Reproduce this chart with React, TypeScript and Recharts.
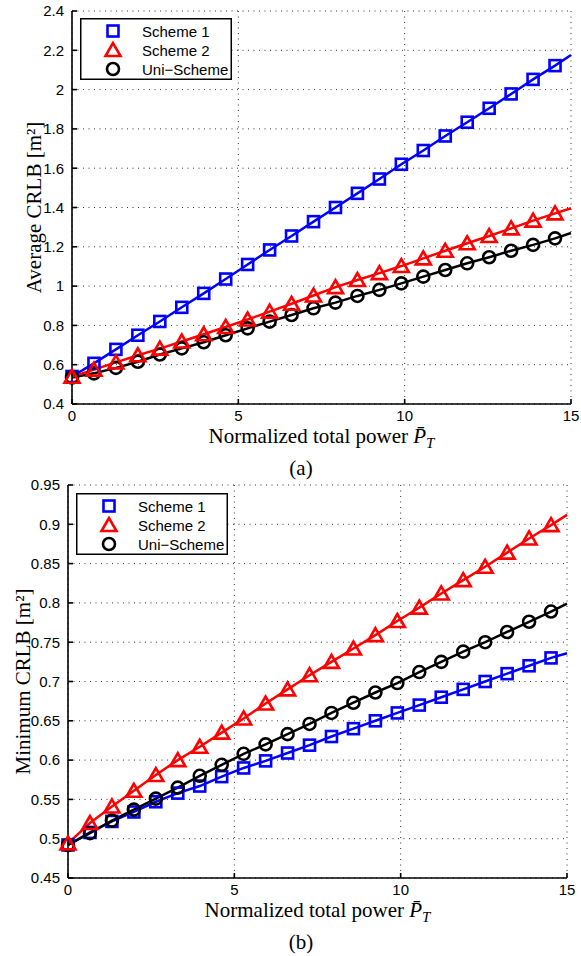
import React from "react";
import { ComposedChart, Line, XAxis, YAxis, CartesianGrid } from "recharts";

// sample points of the normalized total power (last one only carries the line to the edge)
const powerX = [0, 0.66, 1.32, 1.98, 2.64, 3.3, 3.96, 4.62, 5.28, 5.94, 6.6, 7.26, 7.92, 8.58, 9.24, 9.9, 10.56, 11.22, 11.88, 12.54, 13.2, 13.86, 14.52, 15];
const xTicks = [0, 5, 10, 15];

// (a) average CRLB
const avgScheme1 = [0.54, 0.607, 0.678, 0.75, 0.82, 0.892, 0.963, 1.036, 1.11, 1.184, 1.255, 1.328, 1.4, 1.472, 1.545, 1.62, 1.69, 1.764, 1.834, 1.905, 1.978, 2.052, 2.122, 2.176];
const avgScheme2 = [0.539, 0.575, 0.612, 0.648, 0.682, 0.718, 0.755, 0.792, 0.83, 0.87, 0.91, 0.952, 0.995, 1.031, 1.066, 1.102, 1.141, 1.18, 1.218, 1.255, 1.294, 1.333, 1.37, 1.396];
const avgUni = [0.535, 0.556, 0.584, 0.615, 0.652, 0.683, 0.714, 0.75, 0.785, 0.819, 0.853, 0.887, 0.916, 0.95, 0.981, 1.014, 1.048, 1.082, 1.116, 1.147, 1.18, 1.21, 1.243, 1.27];
const avgTicks = [0.4, 0.6, 0.8, 1, 1.2, 1.4, 1.6, 1.8, 2, 2.2, 2.4];

// (b) minimum CRLB
const minScheme1 = [0.492, 0.508, 0.522, 0.534, 0.547, 0.558, 0.567, 0.579, 0.59, 0.599, 0.609, 0.619, 0.63, 0.64, 0.65, 0.66, 0.67, 0.68, 0.69, 0.7, 0.71, 0.72, 0.73, 0.736];
const minScheme2 = [0.494, 0.52, 0.541, 0.561, 0.581, 0.6, 0.617, 0.635, 0.653, 0.672, 0.69, 0.708, 0.725, 0.742, 0.759, 0.777, 0.794, 0.812, 0.829, 0.846, 0.864, 0.882, 0.899, 0.912];
const minUni = [0.492, 0.507, 0.523, 0.537, 0.551, 0.565, 0.58, 0.594, 0.608, 0.62, 0.633, 0.646, 0.66, 0.673, 0.686, 0.698, 0.712, 0.725, 0.738, 0.75, 0.763, 0.776, 0.789, 0.799];
const minTicks = [0.45, 0.5, 0.55, 0.6, 0.65, 0.7, 0.75, 0.8, 0.85, 0.9, 0.95];

const seriesNames = ["Scheme 1", "Scheme 2", "Uni\u2212Scheme"];

const BLUE = "#0000ff";
const RED = "#ff0000";
const BLACK = "#000000";
const SANS = "Liberation Sans, Arial, sans-serif";
const SERIF = "Liberation Serif, Times New Roman, serif";

type Kind = "square" | "triangle" | "circle";

function MarkerShape({ kind, cx, cy }: { kind: Kind; cx: number; cy: number }) {
    if (kind === "square") {
        return <rect x={cx - 5.5} y={cy - 5.5} width={11} height={11} fill="none" stroke={BLUE} strokeWidth={2.6} />;
    }
    if (kind === "triangle") {
        return (
            <polygon
                points={`${cx},${cy - 7} ${cx - 7.5},${cy + 6} ${cx + 7.5},${cy + 6}`}
                fill="none"
                stroke={RED}
                strokeWidth={2.6}
            />
        );
    }
    return <circle cx={cx} cy={cy} r={6} fill="none" stroke={BLACK} strokeWidth={2.6} />;
}

const makeDot = (kind: Kind) => (props: any) => {
    const { cx, cy, index } = props;
    if (cx == null || cy == null || index === powerX.length - 1) return <g key={`${kind}-${index}`} />;
    return (
        <g key={`${kind}-${index}`}>
            <MarkerShape kind={kind} cx={cx} cy={cy} />
        </g>
    );
};

const XTitle = (props: any) => {
    const vb = props.viewBox || {};
    const cx = vb.x + vb.width / 2;
    return (
        <g>
            <text x={cx} y={vb.y + 39} textAnchor="middle" fontFamily={SERIF} fontSize={21} fill={BLACK}>
                Normalized total power{" "}
                <tspan fontStyle="italic">P&#x0304;</tspan>
                <tspan fontStyle="italic" fontSize={15} dy={5}>T</tspan>
            </text>
            <text x={props.captionX} y={vb.y + 71} textAnchor="middle" fontFamily={SERIF} fontSize={21} fill={BLACK}>
                {props.caption}
            </text>
        </g>
    );
};

const YTitle = (props: any) => {
    const vb = props.viewBox || {};
    const cy = vb.y + vb.height / 2;
    const bx = props.baseX;
    return (
        <text
            x={bx}
            y={cy}
            transform={`rotate(-90, ${bx}, ${cy})`}
            textAnchor="middle"
            fontFamily={SERIF}
            fontSize={21}
            fill={BLACK}
        >
            {props.title}
        </text>
    );
};

function LegendBox({ left, top }: { left: number; top: number }) {
    const kinds: Kind[] = ["square", "triangle", "circle"];
    return (
        <svg
            width={152}
            height={62}
            style={{ position: "absolute", left, top, overflow: "visible" }}
        >
            <rect x={0.75} y={0.75} width={150.5} height={60.5} fill="#ffffff" stroke={BLACK} strokeWidth={1.5} />
            {kinds.map((k, i) => (
                <g key={k}>
                    <MarkerShape kind={k} cx={33} cy={13 + i * 19} />
                    <text x={62} y={13 + i * 19 + 5.5} fontFamily={SANS} fontSize={15} fill={BLACK}>
                        {seriesNames[i]}
                    </text>
                </g>
            ))}
        </svg>
    );
}

interface PanelProps {
    s1: number[];
    s2: number[];
    uni: number[];
    yTicks: number[];
    yTitle: string;
    caption: string;
    top: number;
    height: number;
    axisWidth: number;
    rightGap: number;
    bottomBand: number;
    titleBaseX: number;
    legendLeft: number;
    legendTop: number;
}

function CrlbPanel(p: PanelProps) {
    const rows = powerX.map((x, i) => ({ x, s1: p.s1[i], s2: p.s2[i], uni: p.uni[i] }));
    const yDomain = [p.yTicks[0], p.yTicks[p.yTicks.length - 1]];
    const tickStyle = { fontFamily: SANS, fontSize: 15, fill: BLACK };
    return (
        <div style={{ position: "absolute", left: 0, top: p.top, width: 581, height: p.height }}>
            <ComposedChart
                width={581}
                height={p.height}
                data={rows}
                margin={{ top: 11, right: p.rightGap, bottom: 0, left: 0 }}
            >
                <CartesianGrid stroke="#333333" strokeWidth={1} strokeDasharray="1 4.5" />
                <XAxis
                    dataKey="x"
                    type="number"
                    domain={[0, 15]}
                    ticks={xTicks}
                    height={p.bottomBand}
                    stroke={BLACK}
                    strokeWidth={1.6}
                    tickSize={-5}
                    tickMargin={11}
                    tick={tickStyle}
                    interval={0}
                    label={<XTitle caption={p.caption} captionX={301} />}
                />
                <XAxis
                    xAxisId="top"
                    orientation="top"
                    dataKey="x"
                    type="number"
                    domain={[0, 15]}
                    ticks={xTicks}
                    height={0}
                    stroke={BLACK}
                    strokeWidth={1.6}
                    tickSize={-5}
                    tick={false}
                />
                <YAxis
                    type="number"
                    domain={yDomain}
                    ticks={p.yTicks}
                    width={p.axisWidth}
                    stroke={BLACK}
                    strokeWidth={1.6}
                    tickSize={-5}
                    tickMargin={13}
                    tick={tickStyle}
                    interval={0}
                    label={<YTitle title={p.yTitle} baseX={p.titleBaseX} />}
                />
                <YAxis
                    yAxisId="right"
                    orientation="right"
                    type="number"
                    domain={yDomain}
                    ticks={p.yTicks}
                    width={0}
                    stroke={BLACK}
                    strokeWidth={1.6}
                    tickSize={-5}
                    tick={false}
                />
                <Line
                    dataKey="s1"
                    stroke={BLUE}
                    strokeWidth={2.5}
                    dot={makeDot("square")}
                    activeDot={false}
                    isAnimationActive={false}
                />
                <Line
                    dataKey="uni"
                    stroke={BLACK}
                    strokeWidth={2.5}
                    dot={makeDot("circle")}
                    activeDot={false}
                    isAnimationActive={false}
                />
                <Line
                    dataKey="s2"
                    stroke={RED}
                    strokeWidth={2.5}
                    dot={makeDot("triangle")}
                    activeDot={false}
                    isAnimationActive={false}
                />
            </ComposedChart>
            <LegendBox left={p.legendLeft} top={p.legendTop} />
        </div>
    );
}

export default function App() {
    return (
        <div style={{ position: "absolute", left: 0, top: 0, width: 581, height: 956, background: "#ffffff" }}>
            <CrlbPanel
                s1={avgScheme1}
                s2={avgScheme2}
                uni={avgUni}
                yTicks={avgTicks}
                yTitle="Average CRLB [m²]"
                caption="(a)"
                top={0}
                height={484}
                axisWidth={72}
                rightGap={10}
                bottomBand={80}
                titleBaseX={41}
                legendLeft={80}
                legendTop={18}
            />
            <CrlbPanel
                s1={minScheme1}
                s2={minScheme2}
                uni={minUni}
                yTicks={minTicks}
                yTitle="Minimum CRLB [m²]"
                caption="(b)"
                top={474}
                height={482}
                axisWidth={68}
                rightGap={14}
                bottomBand={78}
                titleBaseX={30}
                legendLeft={76}
                legendTop={19}
            />
        </div>
    );
}
